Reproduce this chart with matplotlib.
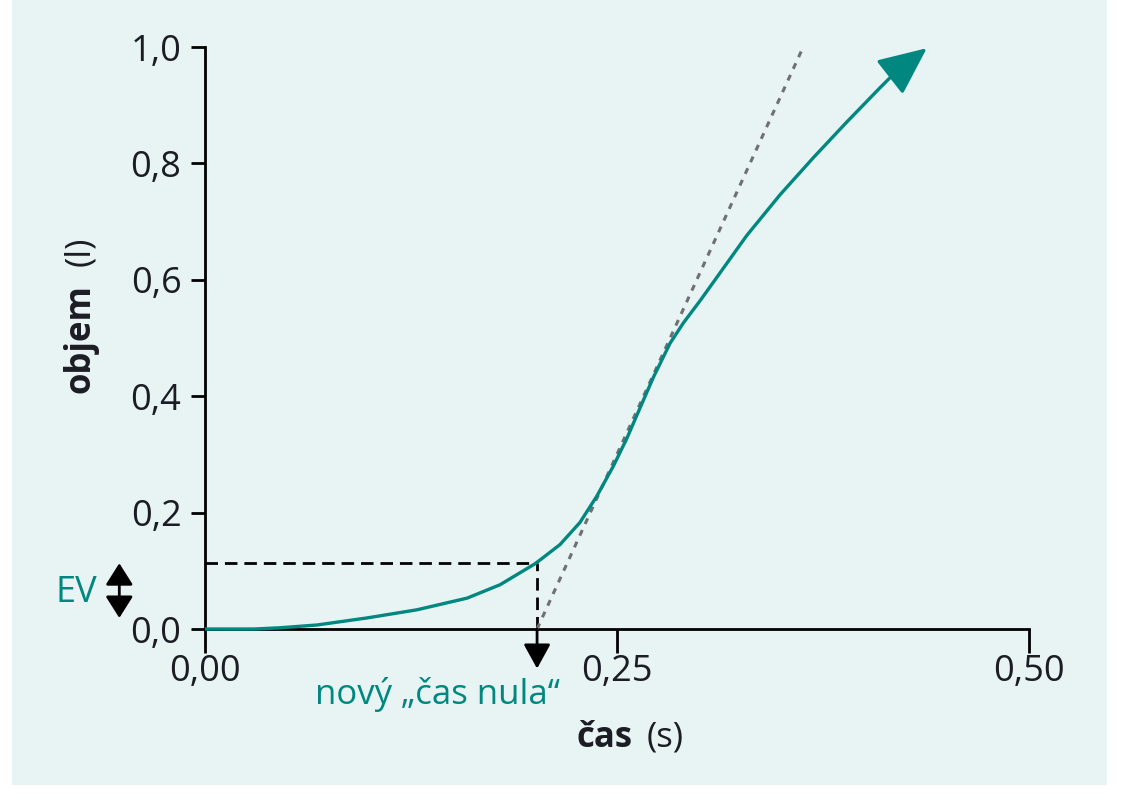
import matplotlib.pyplot as plt
from matplotlib.patches import Rectangle

# data
time_s = [0.0, 0.03, 0.045, 0.068, 0.0983, 0.1286, 0.159, 0.179, 0.2002, 0.2033,
          0.2154, 0.2275, 0.2377, 0.2478, 0.2559, 0.264, 0.272, 0.2822, 0.2903,
          0.3004, 0.3085, 0.3287, 0.3489, 0.3692, 0.3894, 0.4096, 0.4177]
volume_l = [0.0, 0.0, 0.002, 0.0069, 0.019, 0.033, 0.053, 0.076, 0.112, 0.1186,
            0.145, 0.183, 0.228, 0.280, 0.327, 0.380, 0.432, 0.491, 0.526,
            0.564, 0.596, 0.676, 0.746, 0.810, 0.871, 0.930, 0.953]
arrow_tip = (0.438, 0.998)

tangent_t = [0.2015, 0.363]
tangent_v = [0.0, 1.0]

new_zero_t = 0.2015
ev_volume = 0.113

xticks = [0.0, 0.25, 0.50]
xtick_labels = ['0,00', '0,25', '0,50']
yticks = [0.0, 0.2, 0.4, 0.6, 0.8, 1.0]
ytick_labels = ['0,0', '0,2', '0,4', '0,6', '0,8', '1,0']

teal = '#00877F'
ink = '#1c1c24'
bg = '#E7F4F3'

plt.rcParams['font.family'] = ['Open Sans', 'DejaVu Sans']

fig = plt.figure(figsize=(11.24, 8), dpi=100)
fig.patch.set_facecolor('white')
fig.patches.append(Rectangle((12 / 1124, 15 / 800), 1095 / 1124, 785 / 800,
                             transform=fig.transFigure, facecolor=bg,
                             edgecolor='none', zorder=-10))

ax = fig.add_axes([205 / 1124, 1 - 629 / 800, 824 / 1124, 582 / 800])
ax.set_facecolor('none')
ax.set_xlim(0, 0.5)
ax.set_ylim(0, 1.0)

for side in ['top', 'right']:
    ax.spines[side].set_visible(False)
for side in ['left', 'bottom']:
    ax.spines[side].set_linewidth(2.0)
    ax.spines[side].set_color('black')

ax.set_xticks(xticks)
ax.set_xticklabels(xtick_labels)
ax.set_yticks(yticks)
ax.set_yticklabels(ytick_labels)
ax.tick_params(axis='both', direction='out', width=2.0,
               labelsize=26, labelcolor=ink)
ax.tick_params(axis='x', length=17, pad=1)
ax.tick_params(axis='y', length=10, pad=7)

# guide lines for EV
ax.plot([0, new_zero_t], [ev_volume, ev_volume], color='black', lw=2.0,
        dashes=(4.5, 2.5), zorder=2)
ax.plot([new_zero_t, new_zero_t], [0, ev_volume], color='black', lw=2.0,
        dashes=(4.5, 2.5), zorder=2)

# back-extrapolated tangent
ax.plot(tangent_t, tangent_v, color='#707070', lw=2.2, dashes=(2, 2.2),
        zorder=3, clip_on=False)

# volume-time curve
ax.plot(time_s, volume_l, color=teal, lw=2.4, zorder=4, clip_on=False,
        solid_capstyle='butt', solid_joinstyle='round')
ax.annotate('', xy=arrow_tip, xytext=(time_s[-1], volume_l[-1]),
            arrowprops=dict(arrowstyle='-|>,head_length=1.0,head_width=0.45',
                            mutation_scale=30, color=teal, lw=2.4,
                            shrinkA=0, shrinkB=0),
            annotation_clip=False, zorder=5)

# arrow down to the new time zero
ax.annotate('', xy=(new_zero_t, -0.068), xytext=(new_zero_t, 0),
            arrowprops=dict(arrowstyle='-|>,head_length=1.0,head_width=0.55',
                            mutation_scale=15, color='black', lw=2.0,
                            shrinkA=0, shrinkB=0),
            annotation_clip=False)
ax.text(0.1408, -0.113, 'nový „čas nula“', color=teal, fontsize=25,
        ha='center', va='center', clip_on=False)

# EV double arrow
ax.annotate('', xy=(-0.052, ev_volume), xytext=(-0.052, 0.019),
            arrowprops=dict(arrowstyle='<|-|>,head_length=0.95,head_width=0.6',
                            mutation_scale=14, color='black', lw=2.0,
                            shrinkA=0, shrinkB=0),
            annotation_clip=False)
fig.text(76 / 1124, 1 - 593 / 800, 'EV', color=teal, fontsize=26,
         ha='center', va='center')

# axis titles
fig.text(577 / 1124, 1 - 738 / 800, 'čas', fontsize=25, fontweight='bold',
         color=ink, ha='left', va='center')
fig.text(684 / 1124, 1 - 738 / 800, '(s)', fontsize=25, color=ink,
         ha='right', va='center')
fig.text(80 / 1124, 1 - 393 / 800, 'objem', fontsize=25, fontweight='bold',
         color=ink, rotation=90, rotation_mode='anchor', ha='left', va='center')
fig.text(80 / 1124, 1 - 237 / 800, '(l)', fontsize=25, color=ink,
         rotation=90, rotation_mode='anchor', ha='right', va='center')

fig.savefig('out.png', dpi=100, facecolor='white')
